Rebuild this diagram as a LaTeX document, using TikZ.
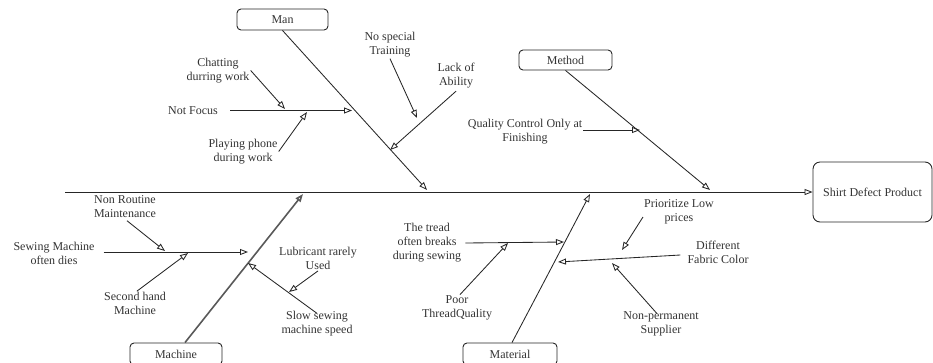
\documentclass[tikz,border=0pt]{standalone}
\usepackage{fontspec}
\setmainfont{Liberation Serif}
\usetikzlibrary{arrows.meta}
\begin{document}
\begin{tikzpicture}[x=1pt,y=-1pt,
  lbl/.style={align=center,font=\fontsize{12}{14}\selectfont,text=black!80,inner sep=1pt},
  catbox/.style={draw=black!85,rounded corners=4pt,line width=0.9pt,font=\fontsize{12}{14}\selectfont,text=black!80,inner sep=0pt},
  conn/.style={draw=black!85,line width=0.85pt,-{Triangle[open,length=8pt,width=6pt]}},
  thickbranch/.style={draw=black!65,line width=1.6pt}
]
\useasboundingbox (0,0) rectangle (933,362);

% category boxes and effect
\node[catbox,minimum width=91pt,minimum height=21pt] (man) at (282.5,19.5) {Man};
\node[catbox,minimum width=93pt,minimum height=20pt] (method) at (565.5,60) {Method};
\node[catbox,minimum width=92pt,minimum height=22pt] (machine) at (176,354) {Machine};
\node[catbox,minimum width=94pt,minimum height=22pt] (material) at (510,354) {Material};
\node[catbox,rounded corners=7pt,minimum width=119pt,minimum height=60pt] (effect) at (872.5,192) {Shirt Defect Product};

% spine
\coordinate (tail) at (65,192);
\draw[conn] (tail) -- (effect.west);

% main branches
\coordinate (manTip) at (427,190);
\coordinate (methodTip) at (710,190);
\coordinate (machineTip) at (303,194);
\coordinate (materialTip) at (590,194);
\draw[conn] (man.south) -- (manTip);
\draw[conn] (method.south) -- (methodTip);
\draw[conn,thickbranch] ([xshift=9pt]machine.north) -- (machineTip);
\draw[conn] ([xshift=2pt]material.north) .. controls (545,280) .. (materialTip);

% Man causes
\node[lbl] (nf) at (193,110.5) {Not Focus};
\coordinate (nfTip) at (352,110.5);
\draw[conn] ([xshift=11pt]nf.east) -- (nfTip);
\node[lbl] (chat) at (218,70.5) {Chatting\\durring work};
\coordinate (chatTip) at (285,109);
\draw[conn] (chat.east) -- (chatTip);
\node[lbl] (play) at (243,151.5) {Playing phone\\during work};
\coordinate (playTip) at (307,112);
\draw[conn] (play.east) -- (playTip);
\node[lbl] (nst) at (390,45) {No special\\Training};
\coordinate (nstTip) at (417,118);
\draw[conn] (nst.south) -- (nstTip);
\node[lbl] (loa) at (456,75.5) {Lack of\\Ability};
\coordinate (loaTip) at (390,150);
\draw[conn] ([yshift=-2pt]loa.south) -- (loaTip);

% Method causes
\node[lbl] (qc) at (525,131.5) {Quality Control Only at\\Finishing};
\coordinate (qcTip) at (640,130);
\draw[conn] ([yshift=1.5pt]qc.east) -- (qcTip);

% Machine causes
\node[lbl] (smd) at (54,253.5) {Sewing Machine\\often dies};
\coordinate (smdTip) at (248,252);
\draw[conn] ([xshift=8pt,yshift=1.5pt]smd.east) -- (smdTip);
\node[lbl] (nrm) at (125,206.5) {Non Routine\\Maintenance};
\coordinate (nrmTip) at (165,251);
\draw[conn] ([xshift=2pt,yshift=-2pt]nrm.south) -- (nrmTip);
\node[lbl] (shd) at (135,303.5) {Second hand\\Machine};
\coordinate (shdTip) at (188,253);
\draw[conn] ([xshift=2pt]shd.north) -- (shdTip);
\node[lbl] (ssm) at (317,324) {Slow sewing\\machine speed};
\coordinate (ssmTip) at (248,263);
\draw[conn] ([yshift=-3pt]ssm.north) -- (ssmTip);
\node[lbl] (lru) at (318,258.5) {Lubricant rarely\\Used};
\coordinate (lruTip) at (289,292);
\draw[conn] (lru.south) -- (lruTip);

% Material causes
\node[lbl] (tread) at (427,242.5) {The tread\\often breaks\\during sewing};
\coordinate (treadTip) at (564,242);
\draw[conn] ([xshift=3pt,yshift=-0.5pt]tread.east) -- (treadTip);
\node[lbl] (ptq) at (457,308) {Poor\\ThreadQuality};
\coordinate (ptqTip) at (508,243);
\draw[conn] ([xshift=3pt]ptq.north) -- (ptqTip);
\node[lbl] (dfc) at (718,252.5) {Different\\Fabric Color};
\coordinate (dfcTip) at (558,262);
\draw[conn] ([xshift=-6pt,yshift=-2.5pt]dfc.west) -- (dfcTip);
\node[lbl] (plp) at (679,212) {Prioritize Low\\prices};
\coordinate (plpTip) at (622,250);
\draw[conn] ([yshift=-5pt]plp.west) -- (plpTip);
\node[lbl] (nps) at (661,324) {Non-permanent\\Supplier};
\coordinate (npsTip) at (612,263);
\draw[conn] ([xshift=-4pt,yshift=-3pt]nps.north) -- (npsTip);
\end{tikzpicture}
\end{document}
